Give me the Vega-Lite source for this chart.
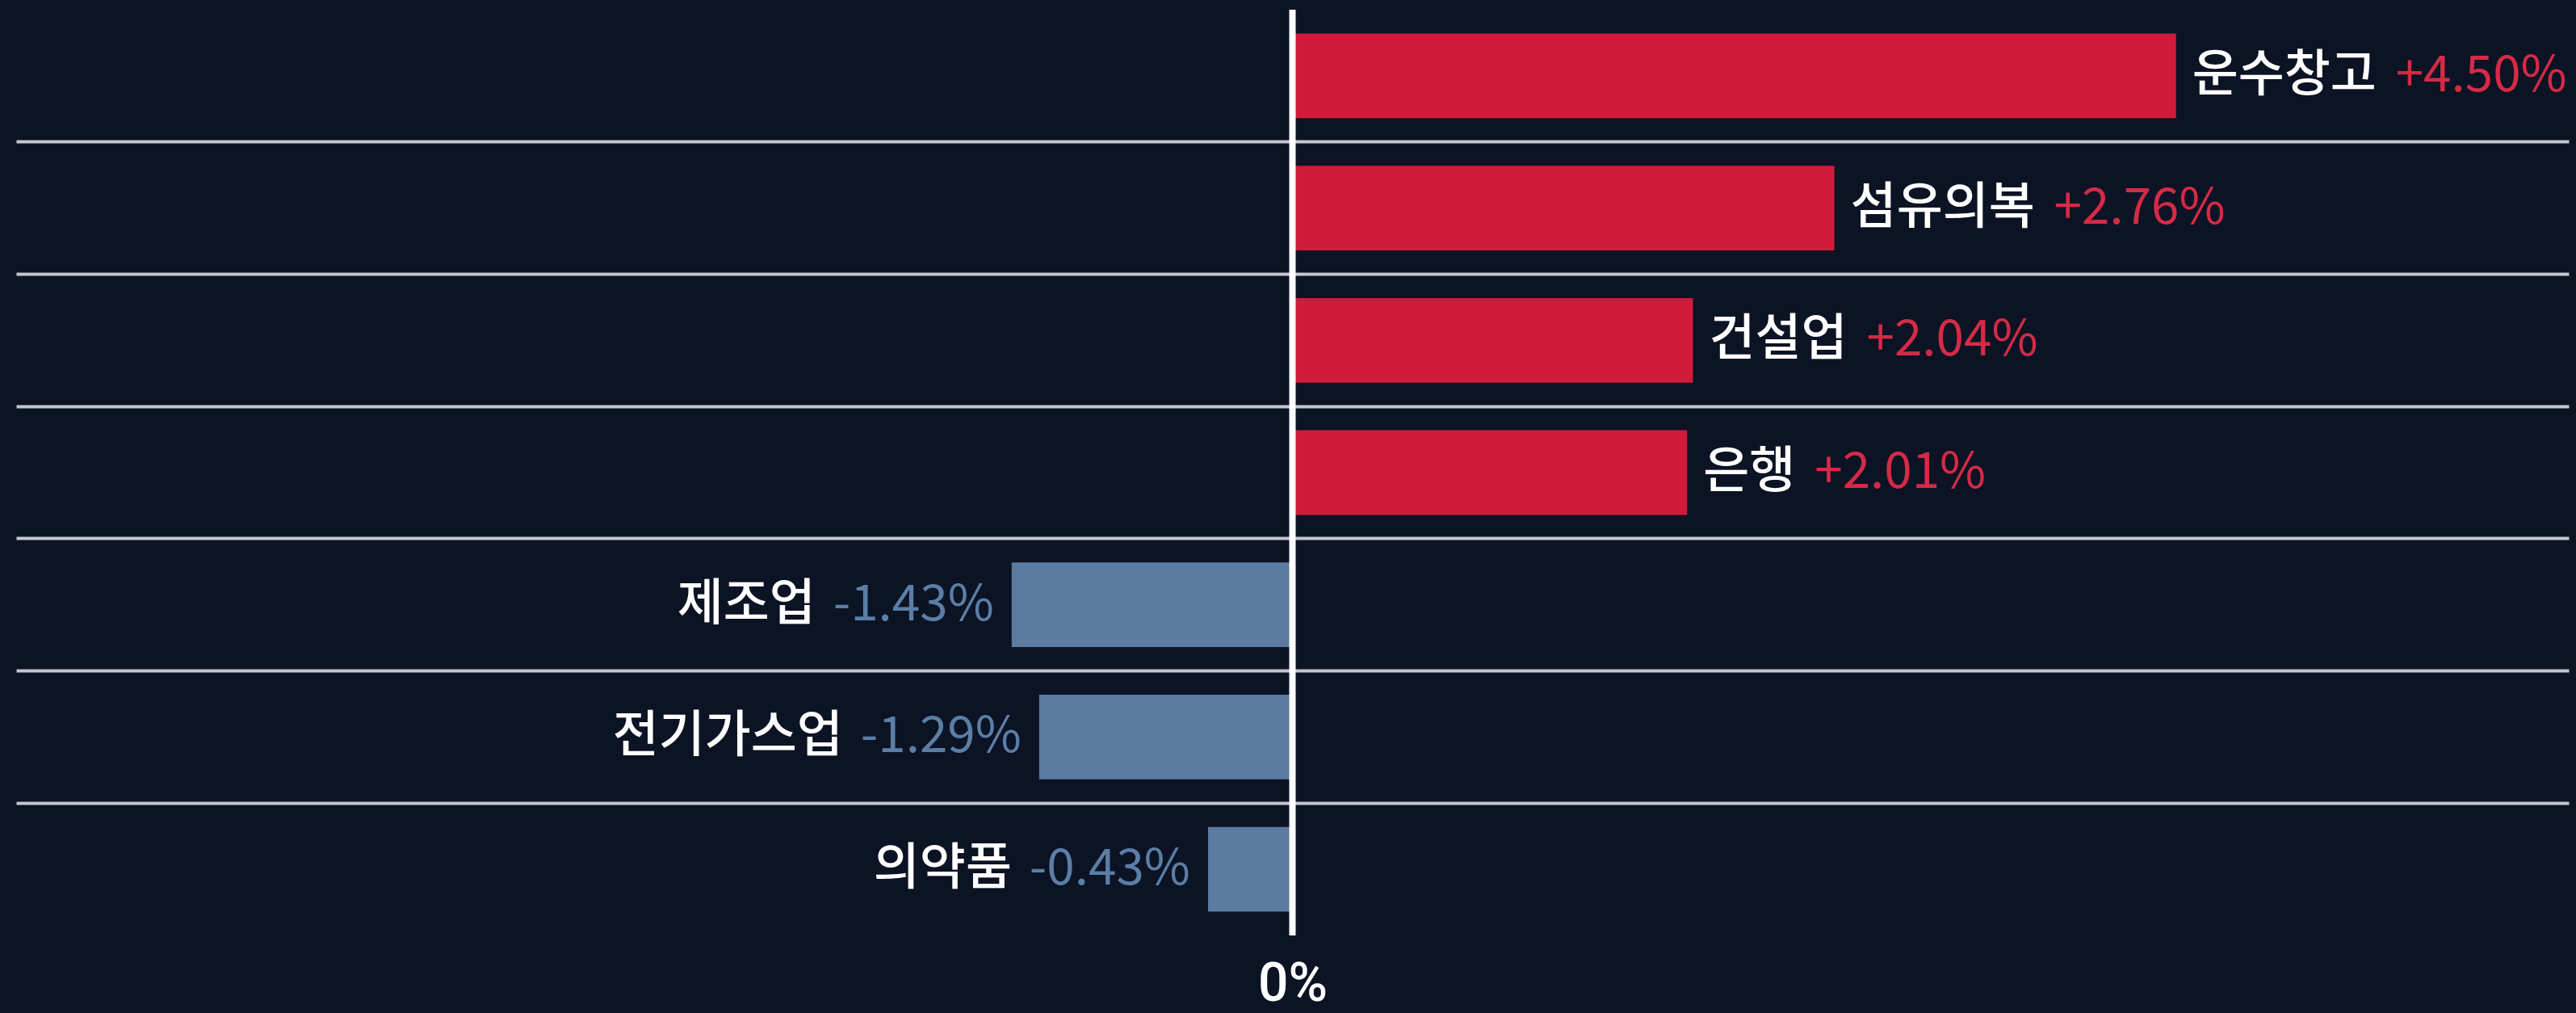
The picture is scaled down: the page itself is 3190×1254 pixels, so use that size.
{
  "$schema": "https://vega.github.io/schema/vega-lite/v6.json",
  "autosize": {"type": "none"},
  "padding": {"left": 20, "right": 9, "top": 12, "bottom": 96},
  "width": 3161,
  "height": 1146,
  "background": "#0b1324",
  "config": {"view": {"stroke": null}},
  "data": {
    "values": [
      {"name": "운수창고", "value": 4.50, "pct": "+4.50%"},
      {"name": "섬유의복", "value": 2.76, "pct": "+2.76%"},
      {"name": "건설업", "value": 2.04, "pct": "+2.04%"},
      {"name": "은행", "value": 2.01, "pct": "+2.01%"},
      {"name": "제조업", "value": -1.43, "pct": "-1.43%"},
      {"name": "전기가스업", "value": -1.29, "pct": "-1.29%"},
      {"name": "의약품", "value": -0.43, "pct": "-0.43%"}
    ]
  },
  "layer": [
    {
      "mark": {"type": "bar", "height": {"band": 0.64}},
      "encoding": {
        "y": {
          "field": "name", "type": "nominal", "sort": null,
          "scale": {"paddingInner": 0, "paddingOuter": 0},
          "axis": {
            "values": ["섬유의복", "건설업", "은행", "제조업", "전기가스업", "의약품"],
            "grid": true, "bandPosition": 0, "labels": false, "ticks": false,
            "domain": false, "title": null, "gridColor": "#c3c7cf", "gridWidth": 4
          }
        },
        "x": {
          "field": "value", "type": "quantitative",
          "scale": {"domain": [-6.5, 6.5], "nice": false, "zero": false},
          "axis": {
            "values": [0], "labelExpr": "'0%'", "grid": false, "ticks": false,
            "domain": false, "title": null, "labelColor": "#ffffff",
            "labelFontSize": 66, "labelFont": "Roboto", "labelFontWeight": 500,
            "labelPadding": 28
          }
        },
        "color": {"condition": {"test": "datum.value > 0", "value": "#d21a3b"}, "value": "#5b7ba1"}
      }
    },
    {
      "transform": [{"filter": "datum.value > 0"}],
      "mark": {"type": "text", "align": "left", "baseline": "middle", "dx": 20, "font": "Noto Sans CJK KR", "fontSize": 62, "fontWeight": 500, "color": "#ffffff"},
      "encoding": {
        "y": {"field": "name", "type": "nominal", "sort": null},
        "x": {"field": "value", "type": "quantitative"},
        "text": {"field": "name"}
      }
    },
    {
      "transform": [{"filter": "datum.value > 0 && length(datum.name) == 4"}],
      "mark": {"type": "text", "align": "left", "baseline": "middle", "dx": 272, "font": "Noto Sans CJK KR", "fontSize": 62, "color": "#d42a46"},
      "encoding": {
        "y": {"field": "name", "type": "nominal", "sort": null},
        "x": {"field": "value", "type": "quantitative"},
        "text": {"field": "pct"}
      }
    },
    {
      "transform": [{"filter": "datum.value > 0 && length(datum.name) == 3"}],
      "mark": {"type": "text", "align": "left", "baseline": "middle", "dx": 215, "font": "Noto Sans CJK KR", "fontSize": 62, "color": "#d42a46"},
      "encoding": {
        "y": {"field": "name", "type": "nominal", "sort": null},
        "x": {"field": "value", "type": "quantitative"},
        "text": {"field": "pct"}
      }
    },
    {
      "transform": [{"filter": "datum.value > 0 && length(datum.name) == 2"}],
      "mark": {"type": "text", "align": "left", "baseline": "middle", "dx": 158, "font": "Noto Sans CJK KR", "fontSize": 62, "color": "#d42a46"},
      "encoding": {
        "y": {"field": "name", "type": "nominal", "sort": null},
        "x": {"field": "value", "type": "quantitative"},
        "text": {"field": "pct"}
      }
    },
    {
      "transform": [{"filter": "datum.value < 0"}],
      "mark": {"type": "text", "align": "right", "baseline": "middle", "dx": -22, "font": "Noto Sans CJK KR", "fontSize": 62, "color": "#5b7ea6"},
      "encoding": {
        "y": {"field": "name", "type": "nominal", "sort": null},
        "x": {"field": "value", "type": "quantitative"},
        "text": {"field": "pct"}
      }
    },
    {
      "transform": [{"filter": "datum.value < 0"}],
      "mark": {"type": "text", "align": "right", "baseline": "middle", "dx": -243, "font": "Noto Sans CJK KR", "fontSize": 62, "fontWeight": 500, "color": "#ffffff"},
      "encoding": {
        "y": {"field": "name", "type": "nominal", "sort": null},
        "x": {"field": "value", "type": "quantitative"},
        "text": {"field": "name"}
      }
    },
    {
      "data": {"values": [{"zero": 0}]},
      "mark": {"type": "rule", "color": "#ffffff", "strokeWidth": 8},
      "encoding": {"x": {"field": "zero", "type": "quantitative"}}
    }
  ]
}
